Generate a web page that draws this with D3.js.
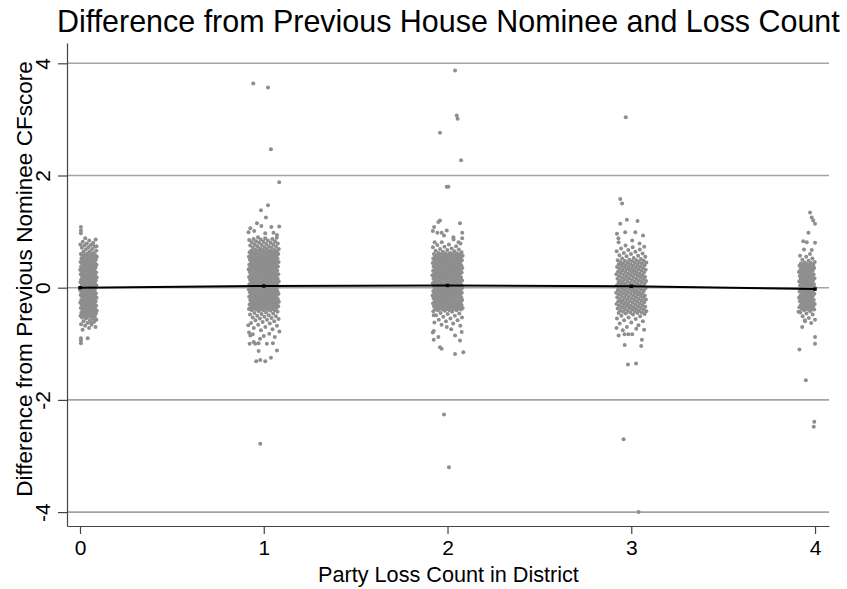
<!DOCTYPE html>
<html><head><meta charset="utf-8">
<script src="https://cdn.jsdelivr.net/npm/d3@7"></script>
<style>
html,body{margin:0;padding:0;background:#fff;}
text{font-family:"Liberation Sans",Arial,Helvetica,sans-serif;fill:#000;}
</style></head>
<body><svg id="chart" width="847" height="589"></svg>
<script>
// ---------- data ----------
const categories = [0, 1, 2, 3, 4];
const meanValues = [0.00, 0.03, 0.04, 0.025, -0.025];
const xTickValues = [0, 1, 2, 3, 4];
const yTickValues = [-4, -2, 0, 2, 4];
const titleText = "Difference from Previous House Nominee and Loss Count";
const xTitleText = "Party Loss Count in District";
const yTitleText = "Difference from Previous Nominee CFscore";

// CFscore differences (jittered cloud), loss count 0
const cloud0 = [0.88,0.86,0.84,0.82,0.80,0.79,0.77,0.76,0.75,0.73,0.72,0.71,0.69,0.68,0.66,0.65,0.64,0.62,0.61,
0.60,0.60,0.59,0.58,0.58,0.57,0.56,0.56,0.55,0.54,0.54,0.53,0.52,0.52,0.51,0.50,0.50,0.49,0.48,0.48,0.47,0.46,0.46,0.45,0.44,0.44,0.43,0.42,0.42,0.41,0.40,0.40,0.39,0.38,0.38,0.37,0.36,0.36,0.35,0.34,0.34,0.33,0.32,0.32,0.31,0.30,0.30,0.29,0.28,0.28,0.27,0.26,0.26,0.25,0.24,0.24,0.23,0.22,0.22,0.21,0.20,0.20,0.19,0.18,0.18,0.17,0.16,0.16,0.15,0.14,0.14,0.13,0.12,0.12,0.11,0.10,0.10,0.09,0.08,0.08,0.07,0.06,0.06,0.05,0.04,0.04,0.03,0.02,0.02,0.01,0.00,0.00,-0.01,-0.02,-0.02,-0.03,-0.04,-0.04,-0.05,-0.06,-0.06,-0.07,-0.08,-0.08,-0.09,-0.10,-0.10,-0.11,-0.12,-0.12,-0.13,-0.14,-0.14,-0.15,-0.16,-0.16,-0.17,-0.18,-0.18,-0.19,-0.20,-0.20,-0.21,-0.22,-0.22,-0.23,-0.24,-0.24,-0.25,-0.26,-0.26,-0.27,-0.28,-0.28,-0.29,-0.30,-0.30,-0.31,-0.32,-0.32,-0.33,-0.34,-0.34,-0.35,-0.36,-0.36,-0.37,-0.38,-0.38,-0.39,-0.40,-0.40,-0.41,-0.42,-0.42,-0.43,-0.44,-0.44,-0.45,-0.46,-0.46,-0.47,-0.48,-0.48,-0.49,-0.50,-0.50,-0.51,-0.52,-0.52,-0.53,-0.54,-0.55,
-0.57,-0.58,-0.60,-0.61,-0.63,-0.65,-0.66,-0.68,-0.70,-0.72,-0.75];
// loss count 1
const cloud1 = [0.90,0.89,0.88,0.87,0.87,0.86,0.85,0.84,0.83,0.83,0.82,0.81,0.80,0.80,0.79,0.78,0.77,0.77,0.76,0.75,0.74,0.74,0.73,0.72,0.71,0.71,0.70,0.69,0.69,0.68,
0.67,0.67,0.66,0.66,0.66,0.65,0.65,0.64,0.64,0.64,0.63,0.63,0.62,0.62,0.62,0.61,0.61,0.60,0.60,0.60,
0.59,0.59,0.58,0.58,0.58,0.57,0.57,0.56,0.56,0.56,0.55,0.55,0.54,0.54,0.54,0.53,0.53,0.52,0.52,0.52,
0.51,0.51,0.50,0.50,0.50,0.49,0.49,0.48,0.48,0.48,0.47,0.47,0.46,0.46,0.46,0.45,0.45,0.44,0.44,0.44,
0.43,0.43,0.42,0.42,0.42,0.41,0.41,0.40,0.40,0.40,0.39,0.39,0.38,0.38,0.38,0.37,0.37,0.36,0.36,0.36,
0.35,0.35,0.34,0.34,0.34,0.33,0.33,0.32,0.32,0.32,0.31,0.31,0.30,0.30,0.30,0.29,0.29,0.28,0.28,0.28,
0.27,0.27,0.26,0.26,0.26,0.25,0.25,0.24,0.24,0.24,0.23,0.23,0.22,0.22,0.22,0.21,0.21,0.20,0.20,0.20,
0.19,0.19,0.18,0.18,0.18,0.17,0.17,0.16,0.16,0.16,0.15,0.15,0.14,0.14,0.14,0.13,0.13,0.12,0.12,0.12,
0.11,0.11,0.10,0.10,0.10,0.09,0.09,0.08,0.08,0.08,0.07,0.07,0.06,0.06,0.06,0.05,0.05,0.04,0.04,0.04,
0.03,0.03,0.02,0.02,0.02,0.01,0.01,0.00,0.00,0.00,-0.01,-0.01,-0.02,-0.02,-0.02,-0.03,-0.03,-0.04,-0.04,-0.04,
-0.05,-0.05,-0.06,-0.06,-0.06,-0.07,-0.07,-0.08,-0.08,-0.08,-0.09,-0.09,-0.10,-0.10,-0.10,-0.11,-0.11,-0.12,-0.12,-0.12,
-0.13,-0.13,-0.14,-0.14,-0.14,-0.15,-0.15,-0.16,-0.16,-0.16,-0.17,-0.17,-0.18,-0.18,-0.18,-0.19,-0.19,-0.20,-0.20,-0.20,
-0.21,-0.21,-0.22,-0.22,-0.22,-0.23,-0.23,-0.24,-0.24,-0.24,-0.25,-0.25,-0.26,-0.26,-0.26,-0.27,-0.27,-0.28,-0.28,-0.28,
-0.29,-0.29,-0.30,-0.30,-0.30,-0.31,-0.31,-0.32,-0.32,-0.32,-0.33,-0.33,-0.34,-0.34,-0.34,-0.35,-0.35,-0.36,-0.36,-0.36,
-0.37,-0.37,-0.38,-0.38,-0.38,-0.39,-0.39,-0.40,-0.40,-0.40,
-0.41,-0.42,-0.43,-0.44,-0.45,-0.46,-0.47,-0.48,-0.49,-0.50,-0.51,-0.52,-0.53,-0.54,-0.55,-0.56,-0.57,-0.58,-0.60,-0.61,-0.63,-0.64,-0.66,-0.68,-0.70,-0.72,-0.74,-0.76];
// loss count 2
const cloud2 = [0.81,0.79,0.77,0.76,0.74,0.73,0.72,0.70,0.69,0.68,0.67,0.66,0.65,0.64,0.63,0.62,0.62,
0.61,0.61,0.60,0.60,0.60,0.59,0.59,0.58,0.58,0.58,0.57,0.57,0.56,0.56,0.56,0.55,0.55,0.54,0.54,0.54,0.53,0.53,0.52,0.52,0.52,
0.51,0.51,0.50,0.50,0.50,0.49,0.49,0.48,0.48,0.48,0.47,0.47,0.46,0.46,0.46,0.45,0.45,0.44,0.44,0.44,
0.43,0.43,0.42,0.42,0.42,0.41,0.41,0.40,0.40,0.40,0.39,0.39,0.38,0.38,0.38,0.37,0.37,0.36,0.36,0.36,
0.35,0.35,0.34,0.34,0.34,0.33,0.33,0.32,0.32,0.32,0.31,0.31,0.30,0.30,0.30,0.29,0.29,0.28,0.28,0.28,
0.27,0.27,0.26,0.26,0.26,0.25,0.25,0.24,0.24,0.24,0.23,0.23,0.22,0.22,0.22,0.21,0.21,0.20,0.20,0.20,
0.19,0.19,0.18,0.18,0.18,0.17,0.17,0.16,0.16,0.16,0.15,0.15,0.14,0.14,0.14,0.13,0.13,0.12,0.12,0.12,
0.11,0.11,0.10,0.10,0.10,0.09,0.09,0.08,0.08,0.08,0.07,0.07,0.06,0.06,0.06,0.05,0.05,0.04,0.04,0.04,
0.03,0.03,0.02,0.02,0.02,0.01,0.01,0.00,0.00,0.00,-0.01,-0.01,-0.02,-0.02,-0.02,-0.03,-0.03,-0.04,-0.04,-0.04,
-0.05,-0.05,-0.06,-0.06,-0.06,-0.07,-0.07,-0.08,-0.08,-0.08,-0.09,-0.09,-0.10,-0.10,-0.10,-0.11,-0.11,-0.12,-0.12,-0.12,
-0.13,-0.13,-0.14,-0.14,-0.14,-0.15,-0.15,-0.16,-0.16,-0.16,-0.17,-0.17,-0.18,-0.18,-0.18,-0.19,-0.19,-0.20,-0.20,-0.20,
-0.21,-0.21,-0.22,-0.22,-0.22,-0.23,-0.23,-0.24,-0.24,-0.24,-0.25,-0.25,-0.26,-0.26,-0.26,-0.27,-0.27,-0.28,-0.28,-0.28,
-0.29,-0.29,-0.30,-0.30,-0.30,-0.31,-0.31,-0.32,-0.32,-0.32,-0.33,-0.33,-0.34,-0.34,-0.34,-0.35,-0.35,-0.36,-0.36,-0.36,
-0.37,-0.37,-0.38,-0.38,-0.38,-0.39,-0.39,-0.40,-0.40,-0.40,
-0.41,-0.42,-0.43,-0.45,-0.46,-0.47,-0.49,-0.50,-0.52,-0.53,-0.55,-0.57,-0.58,-0.60,-0.62,-0.64,-0.66,-0.68];
// loss count 3
const cloud3 = [0.75,0.73,0.72,0.70,0.68,0.67,0.65,0.64,0.62,0.61,0.60,0.58,0.57,0.56,0.55,0.53,0.52,0.51,0.50,
0.49,0.49,0.48,0.48,0.47,0.46,0.46,0.45,0.45,0.44,0.43,0.43,0.42,0.42,0.41,0.40,0.40,0.39,0.39,0.38,0.37,0.37,0.36,0.36,0.35,0.34,0.34,0.33,0.33,0.32,0.31,0.31,0.30,0.30,0.29,0.28,0.28,0.27,0.27,0.26,0.25,0.25,0.24,0.24,0.23,0.22,0.22,0.21,0.21,0.20,0.19,0.19,0.18,0.18,0.17,0.16,0.16,0.15,0.15,0.14,0.13,0.13,0.12,0.12,0.11,0.10,0.10,0.09,0.09,0.08,0.07,0.07,0.06,0.06,0.05,0.04,0.04,0.03,0.03,0.02,0.01,0.01,0.00,0.00,-0.01,-0.02,-0.02,-0.03,-0.03,-0.04,-0.05,-0.05,-0.06,-0.06,-0.07,-0.08,-0.08,-0.09,-0.09,-0.10,-0.11,-0.11,-0.12,-0.12,-0.13,-0.14,-0.14,-0.15,-0.15,-0.16,-0.17,-0.17,-0.18,-0.18,-0.19,-0.20,-0.20,-0.21,-0.21,-0.22,-0.23,-0.23,-0.24,-0.24,-0.25,-0.26,-0.26,-0.27,-0.27,-0.28,-0.29,-0.29,-0.30,-0.30,-0.31,-0.32,-0.32,-0.33,-0.33,-0.34,-0.35,-0.35,-0.36,-0.36,-0.37,-0.38,-0.38,-0.39,-0.39,-0.40,-0.41,-0.41,-0.42,-0.42,-0.43,-0.44,-0.44,-0.45,-0.45,-0.46,
-0.47,-0.48,-0.50,-0.51,-0.53,-0.55,-0.56,-0.58,-0.60,-0.62,-0.64,-0.67,-0.70];
// loss count 4
const cloud4 = [0.60,0.57,0.55,0.52,0.50,0.48,0.46,0.45,0.44,
0.43,0.42,0.41,0.41,0.40,0.39,0.38,0.37,0.36,0.36,0.35,0.34,0.33,0.32,0.31,0.31,0.30,0.29,0.28,0.27,0.26,0.26,0.25,0.24,0.23,0.22,0.21,0.21,0.20,0.19,0.18,0.17,0.16,0.16,0.15,0.14,0.13,0.12,0.11,0.11,0.10,0.09,0.08,0.07,0.06,0.06,0.05,0.04,0.03,0.02,0.01,0.01,0.00,-0.01,-0.02,-0.03,-0.04,-0.04,-0.05,-0.06,-0.07,-0.08,-0.09,-0.09,-0.10,-0.11,-0.12,-0.13,-0.14,-0.14,-0.15,-0.16,-0.17,-0.18,-0.19,-0.19,-0.20,-0.21,-0.22,-0.23,-0.24,-0.24,-0.25,-0.26,-0.27,-0.28,-0.29,-0.29,-0.30,-0.31,-0.32,-0.33,-0.34,-0.34,-0.35,-0.36,-0.37,-0.38,-0.39,-0.39,-0.40,
-0.42,-0.44,-0.46,-0.48,-0.51,-0.54,-0.57,-0.60,-0.63];

// isolated observations: [jitter offset, value]
const outliers0 = [[0.005,1.08],[0.005,1.02],[0.005,0.97],[0.07,0.78],[0.09,0.74],[0.005,-0.90],[0.005,-0.94],[0.042,-0.90],[0.005,-0.99],[0.06,-0.62],[0.08,-0.58]];
const outliers1 = [[-0.057,3.64],[0.023,3.57],[0.039,2.47],[0.084,1.88],[0.023,1.47],[-0.015,1.38],[0.012,1.25],[-0.037,1.15],[-0.013,1.10],[0.041,1.08],[0.084,1.09],[-0.073,1.06],[-0.052,1.01],[0.008,0.97],[0.053,0.98],[-0.083,0.99],[0.072,0.94],[-0.084,-0.67],[-0.073,-0.85],[-0.055,-0.97],[-0.077,-1.00],[-0.046,-1.00],[-0.028,-0.99],[0.017,-1.00],[0.050,-0.99],[-0.028,-1.13],[0.072,-1.12],[-0.041,-1.31],[-0.019,-1.29],[0.008,-1.31],[0.039,-1.25],[-0.019,-2.78],[-0.08,-0.80],[-0.06,-0.83],[0.03,-0.82],[0.06,-0.88],[-0.02,-0.91],[0.085,-0.78],[0.00,-0.86]];
const outliers2 = [[0.041,3.87],[0.050,3.07],[0.055,3.01],[-0.041,2.76],[0.074,2.27],[-0.004,1.80],[0.005,1.80],[-0.041,1.20],[-0.050,1.17],[0.068,1.15],[-0.073,1.08],[-0.080,1.01],[-0.055,0.98],[-0.032,0.98],[-0.004,1.02],[-0.019,0.93],[0.080,0.98],[0.032,0.90],[-0.07,0.81],[0.033,0.86],[0.06,0.81],[0.08,0.88],[-0.075,-0.49],[-0.075,-0.77],[-0.05,-0.88],[-0.08,-0.80],[-0.075,-0.93],[-0.041,-1.06],[-0.032,-1.09],[0.041,-1.18],[0.086,-1.15],[-0.004,-0.70],[0.041,-0.85],[0.077,-0.79],[0.068,-0.94],[0.02,-0.74],[-0.019,-2.26],[0.008,-3.20]];
const outliers3 = [[-0.06,1.58],[-0.05,1.50],[-0.03,3.04],[-0.06,1.14],[-0.024,1.21],[0.034,1.19],[0.022,0.99],[-0.078,0.96],[-0.033,0.99],[-0.069,0.81],[0.064,0.93],[0.045,0.79],[-0.07,0.88],[0.005,0.84],[-0.069,-0.85],[-0.046,-0.76],[-0.037,-0.83],[-0.016,-0.83],[0.005,-0.83],[0.027,-0.73],[0.058,-0.93],[-0.036,-1.02],[0.054,-1.04],[-0.018,-1.37],[0.026,-1.35],[-0.042,-2.70],[0.04,-4.00],[0.07,-0.75],[-0.08,-0.72]];
const outliers4 = [[-0.027,1.34],[-0.018,1.25],[-0.01,1.20],[0.0,1.14],[-0.036,0.98],[-0.064,0.83],[-0.045,0.81],[0.0,0.80],[-0.06,0.68],[-0.018,0.67],[-0.07,-0.70],[-0.055,-0.58],[0.0,-0.88],[0.0,-1.00],[-0.085,-1.10],[-0.05,-1.65],[-0.004,-2.39],[-0.007,-2.48],[-0.09,-0.43]];

const clouds = [cloud0, cloud1, cloud2, cloud3, cloud4];
const outliers = [outliers0, outliers1, outliers2, outliers3, outliers4];

// ---------- drawing ----------
const svg = d3.select("#chart");
const plotLeft = 67, plotRight = 829, plotTop = 43, plotBottom = 526;
const x = d3.scaleLinear().domain([-0.0707, 4.076]).range([plotLeft, plotRight]);
const y = d3.scaleLinear().domain([-4.248, 4.362]).range([plotBottom, plotTop]);

// gridlines
svg.append("g").selectAll("line").data(yTickValues).join("line")
  .attr("x1", plotLeft).attr("x2", plotRight)
  .attr("y1", d => y(d)).attr("y2", d => y(d))
  .attr("stroke", "#a3a3a3").attr("stroke-width", 1.6);

// jitter (horizontal spread only, like Stata's jitter)
function jitter(cat, i) {
  const u = (i * 0.6180339887 + 0.31) % 1;
  if (cat === 0) return u * 0.092;
  if (cat === categories[categories.length - 1]) return -u * 0.088;
  return (u - 0.5) * 0.165;
}
const pts = [];
categories.forEach((c, k) => {
  clouds[k].forEach((v, i) => pts.push([c + jitter(c, i), v]));
  outliers[k].forEach(([dx, v]) => pts.push([c + dx, v]));
});
svg.append("g").selectAll("circle").data(pts).join("circle")
  .attr("cx", d => x(d[0])).attr("cy", d => y(d[1])).attr("r", 2.0)
  .attr("fill", "#8e8e8e");

// mean line
const meanPts = categories.map((c, i) => [c, meanValues[i]]);
svg.append("path").datum(meanPts)
  .attr("d", d3.line().x(d => x(d[0])).y(d => y(d[1])))
  .attr("fill", "none").attr("stroke", "#000").attr("stroke-width", 2);
svg.append("g").selectAll("rect").data(meanPts).join("rect")
  .attr("x", d => x(d[0]) - 1.7).attr("y", d => y(d[1]) - 1.7)
  .attr("width", 3.4).attr("height", 3.4).attr("fill", "#000");

// axes
const yAxis = svg.append("g").attr("transform", `translate(${plotLeft},0)`)
  .call(d3.axisLeft(y).tickValues(yTickValues).tickSize(9).tickSizeOuter(0).tickFormat(d3.format("d")));
yAxis.selectAll("text").remove();
yAxis.selectAll(".tick").append("text")
  .attr("transform", "translate(-17,0) rotate(-90)")
  .attr("text-anchor", "middle").attr("font-size", 21)
  .text(d => d);
const xAxis = svg.append("g").attr("transform", `translate(0,${plotBottom})`)
  .call(d3.axisBottom(x).tickValues(xTickValues).tickSize(8).tickSizeOuter(0).tickFormat(d3.format("d")));
xAxis.selectAll("text").remove();
xAxis.selectAll(".tick").append("text")
  .attr("y", 29).attr("text-anchor", "middle").attr("font-size", 21)
  .text(d => d);
svg.selectAll(".domain").attr("stroke", "#444").attr("stroke-width", 1.2);
svg.selectAll(".tick line").attr("stroke", "#444").attr("stroke-width", 1.2);
svg.selectAll(".tick text").attr("fill", "#000").style("font-family", '"Liberation Sans",Arial,Helvetica,sans-serif');

// titles, fitted to the reference widths
function fit(sel, target, base) {
  sel.attr("font-size", base);
  const w = sel.node().getComputedTextLength();
  sel.attr("font-size", base * target / w);
}
const t = svg.append("text").attr("x", 57).attr("y", 32).text(titleText);
fit(t, 783, 28);
const xt = svg.append("text").attr("x", 448.5).attr("y", 582).attr("text-anchor", "middle").text(xTitleText);
fit(xt, 261, 22);
const yt = svg.append("text").attr("transform", "translate(32,279) rotate(-90)").attr("text-anchor", "middle").text(yTitleText);
fit(yt, 436, 22);
</script></body></html>
